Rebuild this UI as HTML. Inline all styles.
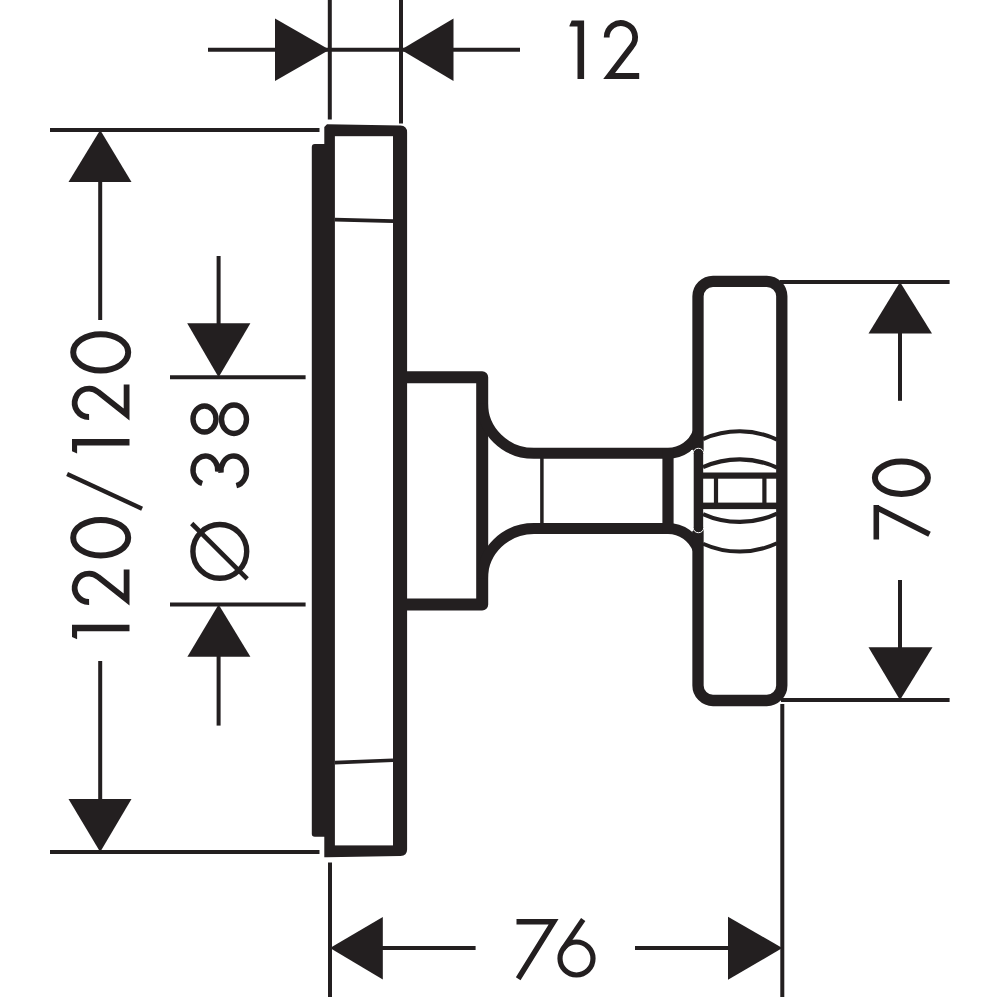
<!DOCTYPE html>
<html><head><meta charset="utf-8"><style>
html,body{margin:0;padding:0;background:#fff;overflow:hidden;width:1000px;height:1000px;}
svg{display:block;}
</style></head><body>
<svg width="1000" height="1000" viewBox="0 0 1000 1000">
<rect width="1000" height="1000" fill="#fff"/>
<g stroke="#231f20" fill="none" stroke-linecap="butt">
<line x1="208" y1="49.8" x2="520" y2="49.8" stroke-width="4.0"/>
<polygon points="275,18.6 329.5,49.8 275,81" fill="#231f20" stroke="none"/>
<polygon points="453.5,18.6 401,49.8 453.5,81" fill="#231f20" stroke="none"/>
<line x1="329.8" y1="0" x2="329.8" y2="119.5" stroke-width="4.0"/>
<line x1="401" y1="0" x2="401" y2="123.5" stroke-width="4.0"/>
<line x1="50" y1="130" x2="319.5" y2="130" stroke-width="4.0"/>
<line x1="50" y1="852" x2="319.5" y2="852" stroke-width="4.0"/>
<polygon points="100.2,130 68.5,182 131.5,182" fill="#231f20" stroke="none"/>
<polygon points="100.2,852 68.5,799 131.5,799" fill="#231f20" stroke="none"/>
<line x1="100.2" y1="182" x2="100.2" y2="320" stroke-width="4.0"/>
<line x1="100.2" y1="661" x2="100.2" y2="799" stroke-width="4.0"/>
<line x1="170" y1="377.3" x2="305.6" y2="377.3" stroke-width="4.0"/>
<line x1="170" y1="604.5" x2="305.6" y2="604.5" stroke-width="4.0"/>
<line x1="218.6" y1="256" x2="218.6" y2="324" stroke-width="4.0"/>
<polygon points="187.2,323.2 250.4,323.2 218.6,377.3" fill="#231f20" stroke="none"/>
<polygon points="218.6,604.5 187.4,656.8 250.4,656.8" fill="#231f20" stroke="none"/>
<line x1="218.6" y1="656" x2="218.6" y2="725.6" stroke-width="4.0"/>
<line x1="780" y1="282" x2="949.6" y2="282" stroke-width="4.0"/>
<line x1="781" y1="700" x2="949.6" y2="700" stroke-width="4.0"/>
<polygon points="900,282 868.5,333.6 932,333.6" fill="#231f20" stroke="none"/>
<line x1="900" y1="333" x2="900" y2="400.8" stroke-width="4.0"/>
<line x1="900" y1="580" x2="900" y2="648" stroke-width="4.0"/>
<polygon points="868.5,647.2 932.5,647.2 900,700" fill="#231f20" stroke="none"/>
<line x1="330" y1="862.5" x2="330" y2="997" stroke-width="4.0"/>
<line x1="782.3" y1="704" x2="782.3" y2="997" stroke-width="4.0"/>
<polygon points="330,948 382.8,917 382.8,979.6" fill="#231f20" stroke="none"/>
<line x1="382" y1="948" x2="475.6" y2="948" stroke-width="4.0"/>
<line x1="635" y1="948" x2="729" y2="948" stroke-width="4.0"/>
<polygon points="782.3,948 728,916.8 728,979.8" fill="#231f20" stroke="none"/>
<g transform="translate(569.5,78.9)"><path d="M0,-53.4 L2.2,-58.5 L14.6,-58.5 L14.6,0 L8,0 L8,-52.4 L0,-52.4 Z" fill="#231f20" stroke="none"/><path d="M37.2,-41.400000000000006 A14.2 14.2 0 1 1 62.08,-32.27 L39.6,-2.9 L69.7,-2.9" fill="none" stroke-width="5.8" stroke-linejoin="miter" stroke-miterlimit="10"/></g>
<g transform="matrix(0,-1,1,0,129.5,639.3)"><path d="M0,-52.4 L2.2,-57.5 L14.6,-57.5 L14.6,0 L8,0 L8,-52.4 L0,-52.4 Z" fill="#231f20" stroke="none"/><path d="M37.3,-40.400000000000006 A14.2 14.2 0 1 1 62.18,-31.27 L39.699999999999996,-2.9 L69.8,-2.9" fill="none" stroke-width="5.8" stroke-linejoin="miter" stroke-miterlimit="10"/><ellipse cx="101.65" cy="-28.80" rx="17.75" ry="27.50" fill="none" stroke-width="6.0"/><line x1="130.6" y1="12.6" x2="165.2" y2="-62.4" stroke-width="4.4"/><path d="M185.8,-52.4 L188.0,-57.5 L200.4,-57.5 L200.4,0 L193.8,0 L193.8,-52.4 L185.8,-52.4 Z" fill="#231f20" stroke="none"/><path d="M222.3,-40.400000000000006 A14.2 14.2 0 1 1 247.18,-31.27 L224.70000000000002,-2.9 L254.8,-2.9" fill="none" stroke-width="5.8" stroke-linejoin="miter" stroke-miterlimit="10"/><ellipse cx="286.95" cy="-28.80" rx="18.15" ry="27.50" fill="none" stroke-width="6.0"/></g>
<g transform="matrix(0,-1,1,0,249,581)"><circle cx="29.6" cy="-29.2" r="26.9" fill="none" stroke-width="5.4"/><line x1="2.2" y1="-1.8" x2="57.5" y2="-57.3" stroke-width="4.6"/><path d="M97.48,-46.81 A14.0 12.4 0 1 1 109.29,-31.29 M108.17,-28.00 A15 12.8 0 1 1 95.33,-12.64" fill="none" stroke-width="5.4"/><ellipse cx="162" cy="-44.5" rx="13" ry="11.5" fill="none" stroke-width="5.4"/><ellipse cx="161.75" cy="-15" rx="14.25" ry="12.5" fill="none" stroke-width="5.4"/></g>
<g transform="matrix(0,-1,1,0,930,539.5)"><path d="M0,-53.7 H34.5 M31.3,-52 L5.2,-0.5" fill="none" stroke-width="5.6"/><ellipse cx="61.75" cy="-28.60" rx="16.15" ry="26.50" fill="none" stroke-width="6.0"/></g>
<path d="M516.5,921.75 H553.6 L518.2,978.8" fill="none" stroke-width="5.5" stroke-linejoin="miter"/>
<line x1="583.2" y1="919.5" x2="562.88" y2="949.18" stroke-width="5.2"/>
<circle cx="576.5" cy="958.5" r="16.5" fill="none" stroke-width="5.2"/>
<path d="M327,124.3 L400.5,125.6 Q407.1,126 407.1,132.5 L407.1,849.5 Q407.1,855.7 400.5,856 L327,857.2 L324.3,857.2 L324.3,836.8 L314.8,836.8 Q311.8,836.8 311.8,834 L311.8,147 Q311.8,144 314.8,144 L324.3,144 L324.3,127 Z" fill="#231f20" stroke="none"/>
<rect x="334.9" y="136.2" width="58.1" height="709.2" fill="#fff" stroke="none"/>
<line x1="334.9" y1="219.6" x2="393" y2="221.1" stroke-width="3.6"/>
<line x1="334.9" y1="762.6" x2="393" y2="760.2" stroke-width="3.6"/>
<path d="M406,377.3 H482.2 V604.5 H406" fill="none" stroke-width="12" stroke-linejoin="round"/>
<path d="M482.5,403.5 A51.5 49.8 0 0 0 534,453.3 H668" fill="none" stroke-width="11"/>
<path d="M482.5,578.3 A51.5 49.8 0 0 1 534,528.5 H668" fill="none" stroke-width="11"/>
<path d="M668,453.3 A32 32 0 0 0 698,432.4" fill="none" stroke-width="11"/>
<path d="M668,528.5 A32 32 0 0 1 698,549.4" fill="none" stroke-width="11"/>
<line x1="541.9" y1="457" x2="541.9" y2="524" stroke-width="3.5"/>
<line x1="668" y1="448" x2="668" y2="534" stroke-width="11.2"/>
<rect x="698" y="281.3" width="83.8" height="419.2" rx="15" ry="15" fill="none" stroke-width="11.3"/>
<rect x="691" y="450" width="2.2" height="81" fill="#fff" stroke="none"/>
<rect x="693.2" y="448.3" width="10.5" height="84.4" rx="5" ry="5" fill="#231f20" stroke="#fff" stroke-width="1"/>
<path d="M703,439.13 A89 89 0 0 1 777,439.59" fill="none" stroke-width="4.0"/>
<path d="M703,467.13 A89 89 0 0 1 777,467.59" fill="none" stroke-width="4.2"/>
<path d="M703,514.07 A89 89 0 0 0 777,513.61" fill="none" stroke-width="4.2"/>
<path d="M703,543.77 A89 89 0 0 0 777,543.31" fill="none" stroke-width="4.0"/>
<rect x="703" y="472.5" width="74" height="6.2" fill="#231f20" stroke="none"/>
<rect x="703" y="502.6" width="74" height="6.5" fill="#231f20" stroke="none"/>
<rect x="713.9" y="478" width="4.2" height="25" fill="#231f20" stroke="none"/>
<rect x="762.3" y="478" width="4.2" height="25" fill="#231f20" stroke="none"/>
</g>
</svg>
</body></html>
